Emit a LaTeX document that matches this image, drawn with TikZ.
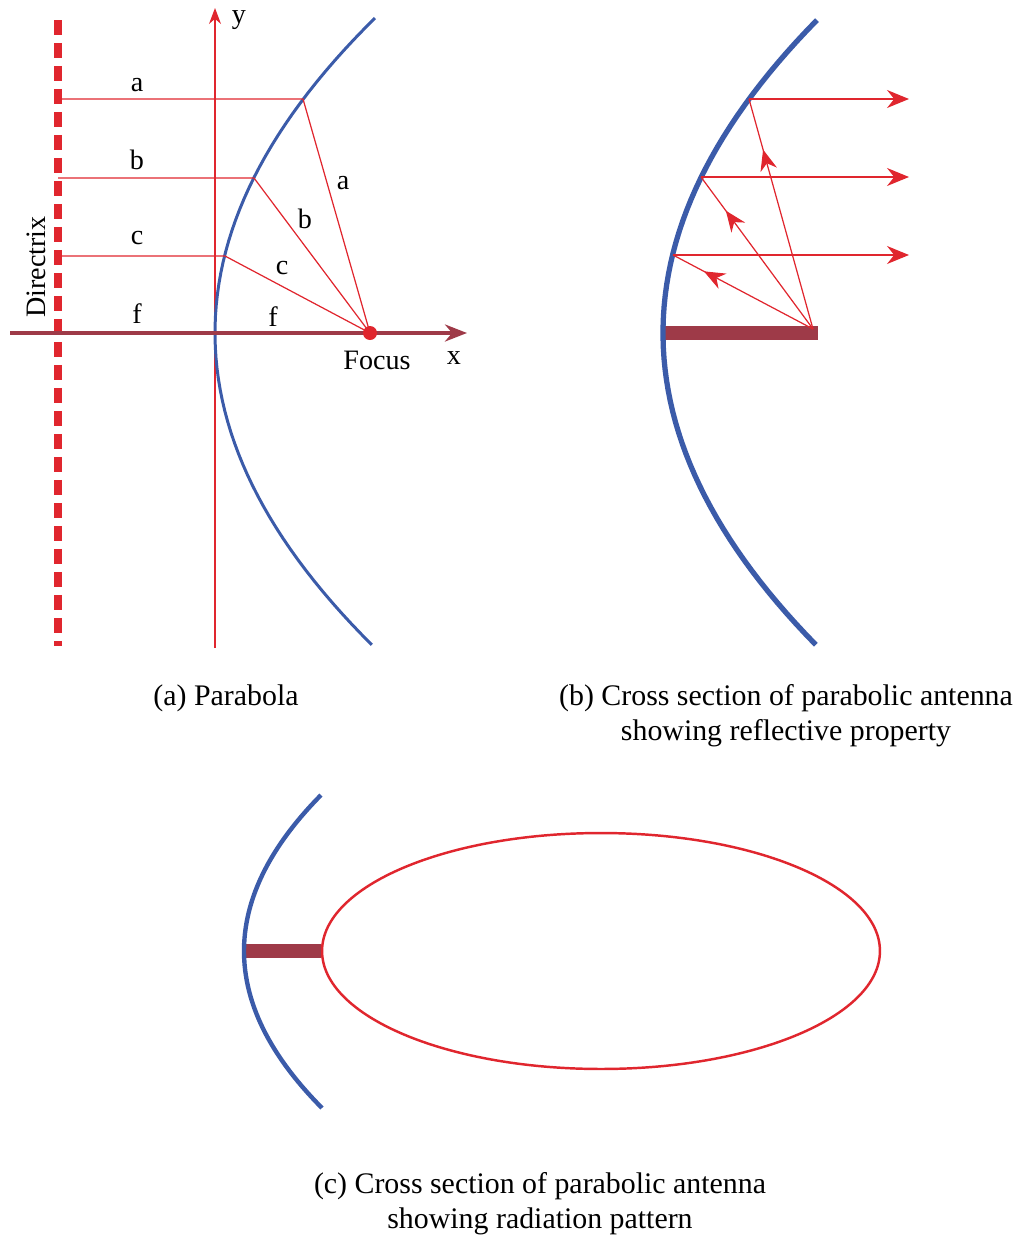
\documentclass[tikz,border=0pt]{standalone}
\usepackage{fontspec}
\setmainfont{Liberation Serif}
\usetikzlibrary{arrows.meta,positioning,decorations.markings,shapes.geometric}
\definecolor{Dish}{HTML}{3B5BA9}
\definecolor{Ray}{HTML}{E0262E}
\definecolor{Feed}{HTML}{9E3A48}
\tikzset{dish/.style={draw=Dish,line width=1.7pt},ray/.style={draw=Ray,line width=0.7pt},beam/.style={ray,-{Stealth[length=4.4mm,width=3.6mm]}},midarrow/.style={postaction={decorate},decoration={markings,mark=at position 0.78 with {\arrow{Stealth[length=4.2mm,width=3.4mm,color=Ray]}}}},feed/.style={draw=Feed,line width=8.5pt},directrix/.style={draw=Ray,line width=4.5pt,dash pattern=on 0.3cm off 0.16cm},axis/.style={draw=Feed,line width=2.8pt,-{Stealth[length=4.4mm,width=3.4mm]}},lobe/.style={ellipse,draw=Ray,line width=1.4pt,minimum width=11.16cm,minimum height=4.72cm,inner sep=0pt},caption/.style={align=center,font=\fontsize{17}{20}\selectfont}}

\begin{document}
\begin{tikzpicture}[x=0.02cm,y=-0.02cm,font=\fontsize{16}{19}\selectfont]
\useasboundingbox (0,0) rectangle (1021,1238);
% (a) parabola
\coordinate (va) at (215,333);
\coordinate (fa) at (370,333);
\coordinate (ybot) at (215,648);
\coordinate (ytop) at (215,8);
\coordinate (xleft) at (10,333);
\coordinate (xright) at (467,333);
\coordinate (pa) at (303,99);
\coordinate (pb) at (254,178);
\coordinate (pc) at (225,256);
\coordinate (da) at (58,99);
\coordinate (db) at (58,178);
\coordinate (dc) at (58,256);
\draw[ray,-{Stealth[length=3.2mm,width=2.4mm]}] (ybot) -- (ytop);
\draw[directrix] (58,20) -- (58,646);
\draw[dish] plot[variable=\t,domain=-1.016:1.006,samples=60] ({215+155*\t*\t},{333+310*\t});
\draw[ray] (da) -- (pa) -- (fa);
\draw[ray] (db) -- (pb) -- (fa);
\draw[ray] (dc) -- (pc) -- (fa);
\draw[axis] (xleft) -- (xright);
\fill[Ray] (fa) circle (0.14cm);
\node (ya) at (137,85) {a};
\node (yb) at (137,160) {b};
\node (yc) at (137,238) {c};
\node (yf) at (137,314) {f};
\node (sa) at (343,183) {a};
\node (sb) at (305,219) {b};
\node (sc) at (282,268) {c};
\node (sf) at (273,317) {f};
\node (focus) at (377,360) {Focus};
\node (xlab) at (454,358) {x};
\node (ylab) at (239,20) {y};
\node[rotate=90] (dlab) at (36,267) {Directrix};
\node[caption] (capa) at (226,698) {(a) Parabola};
% (b) reflective property
\coordinate (vb) at (663,333);
\coordinate (fbar) at (818,333);
\coordinate (fb) at (813,329);
\coordinate (qa) at (749,99);
\coordinate (qb) at (701,177);
\coordinate (qc) at (673,255);
\coordinate (ea) at (909,99);
\coordinate (eb) at (909,177);
\coordinate (ec) at (909,255);
\draw[feed] (vb) -- (fbar);
\draw[dish,line width=3pt] plot[variable=\t,domain=-0.984:0.981,samples=60] ({663+159*\t*\t},{333+318*\t});
\draw[ray,midarrow] (fb) -- (qa);
\draw[ray,midarrow] (fb) -- (qb);
\draw[ray,midarrow] (fb) -- (qc);
\draw[beam] (qa) -- (ea);
\draw[beam] (qb) -- (eb);
\draw[beam] (qc) -- (ec);
\node[caption] (capb) at (786,716) {(b) Cross section of parabolic antenna\\showing reflective property};
% (c) radiation pattern
\coordinate (vc) at (244,951);
\node[lobe] (pattern) at (601,951) {};
\draw[feed,line width=8pt] (vc) -- (pattern.west);
\draw[dish,line width=2.5pt] plot[variable=\t,domain=-0.987:0.994,samples=60] ({244+79*\t*\t},{951+158*\t});
\node[caption] (capc) at (540,1204) {(c) Cross section of parabolic antenna\\showing radiation pattern};
\end{tikzpicture}
\end{document}
